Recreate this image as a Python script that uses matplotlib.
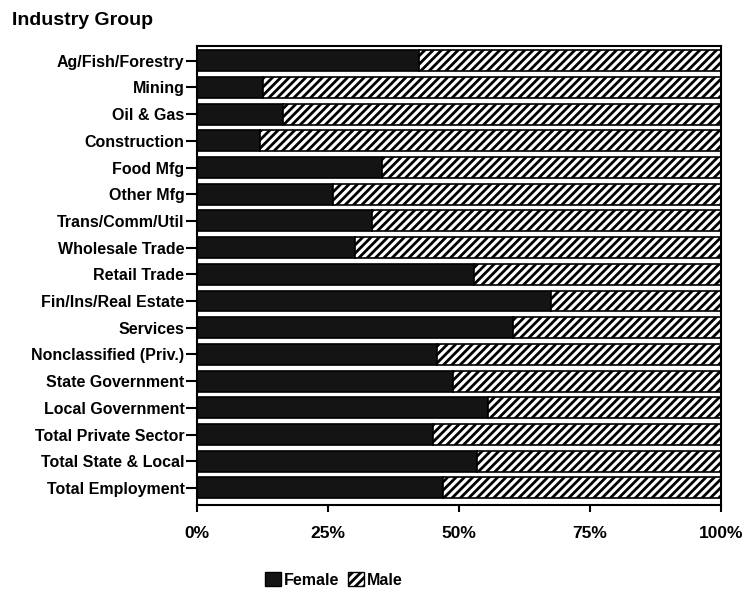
import matplotlib.pyplot as plt
import numpy as np
from matplotlib.patches import Patch

plt.rcParams['font.family'] = ['Liberation Sans', 'DejaVu Sans']
plt.rcParams['font.weight'] = 'bold'
plt.rcParams['hatch.linewidth'] = 2.0

# share of employment held by women, per industry group (percent)
industries = ['Ag/Fish/Forestry', 'Mining', 'Oil & Gas', 'Construction',
              'Food Mfg', 'Other Mfg', 'Trans/Comm/Util', 'Wholesale Trade',
              'Retail Trade', 'Fin/Ins/Real Estate', 'Services',
              'Nonclassified (Priv.)', 'State Government', 'Local Government',
              'Total Private Sector', 'Total State & Local', 'Total Employment']
female = [42.3, 12.6, 16.4, 12.0,
          35.4, 26.0, 33.5, 30.2,
          52.8, 67.5, 60.4,
          45.9, 48.8, 55.6,
          45.1, 53.5, 47.0]
male = [100 - f for f in female]

xticks = [0, 25, 50, 75, 100]
xticklabels = ['0%', '25%', '50%', '75%', '100%']

fig = plt.figure(figsize=(7.47, 5.93), dpi=100)
ax = fig.add_axes([0.2637, 0.1484, 0.7013, 0.774])

y = np.arange(len(industries))
h = 0.78
ax.barh(y, female, height=h, color='#141414', edgecolor='black', linewidth=1.2)
ax.barh(y, male, left=female, height=h, color='white', edgecolor='black',
        hatch='////', linewidth=1.2)

ax.set_ylim(len(industries) - 0.36, -0.55)
ax.set_xlim(0, 100)
ax.set_yticks(y)
ax.set_yticklabels(industries, fontsize=11.5, fontweight='bold')
ax.set_xticks(xticks)
ax.set_xticklabels(xticklabels, fontsize=12.5, fontweight='bold')
ax.tick_params(axis='y', length=8, width=1.5, pad=1)
ax.tick_params(axis='x', length=5, width=1.5, pad=10)
for s in ax.spines.values():
    s.set_linewidth(1.5)

fig.text(0.016, 0.966, 'Industry Group', fontsize=14, fontweight='bold',
         ha='left', va='center')

handles = [Patch(facecolor='#141414', edgecolor='black', label='Female'),
           Patch(facecolor='white', edgecolor='black', hatch='////', label='Male')]
fig.legend(handles=handles, loc='center', bbox_to_anchor=(0.447, 0.022), ncol=2,
           frameon=False, handlelength=1.0, handleheight=1.0, handletextpad=0.2,
           columnspacing=0.5, prop={'size': 11.5, 'weight': 'bold'})

fig.savefig('out.png', dpi=100)
